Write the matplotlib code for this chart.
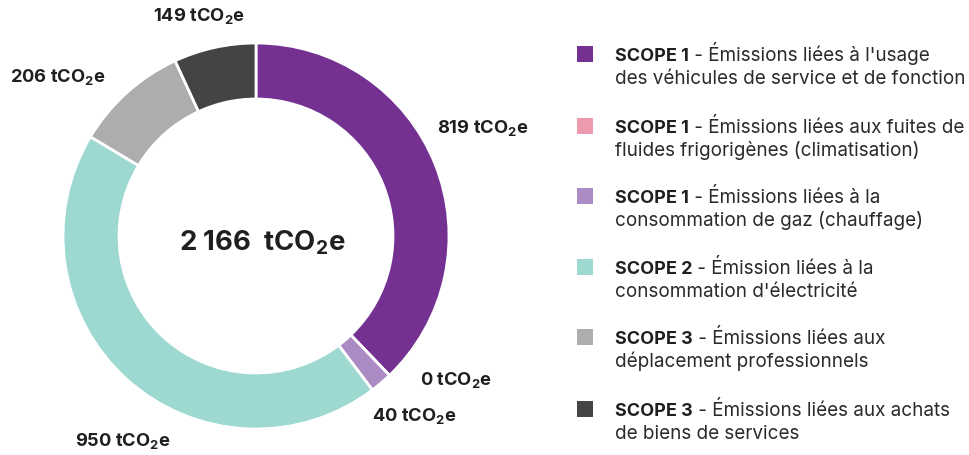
import matplotlib
matplotlib.use("Agg")
import matplotlib.pyplot as plt

plt.rcParams['font.family'] = ['Inter', 'DejaVu Sans']
plt.rcParams['mathtext.fontset'] = 'custom'
plt.rcParams['mathtext.rm'] = 'Inter'
plt.rcParams['mathtext.bf'] = 'Inter:bold'

# data, clockwise from the top
values = [819, 0, 40, 950, 206, 149]
colors = ['#743191', '#EE9AAE', '#AB8BC3', '#9DD9D1', '#ADADAF', '#444446']
scopes = ['SCOPE 1', 'SCOPE 1', 'SCOPE 1', 'SCOPE 2', 'SCOPE 3', 'SCOPE 3']
descs = [
    ["Émissions liées à l'usage", "des véhicules de service et de fonction"],
    ["Émissions liées aux fuites de", "fluides frigorigènes (climatisation)"],
    ["Émissions liées à la", "consommation de gaz (chauffage)"],
    ["Émission liées à la", "consommation d'électricité"],
    ["Émissions liées aux", "déplacement professionnels"],
    ["Émissions liées aux achats", "de biens de services"],
]
total_label = "2 166"

# label positions in pixels (left x, centre y from top)
label_pos = [(437, 128), (420, 380), (372, 416), (75, 441), (10, 77), (153, 16)]

W, H = 969, 456
fig = plt.figure(figsize=(W / 100, H / 100), dpi=100)
ax = fig.add_axes([0, 0, 1, 1])

cx, cy, r = 256, H - 237, 193
ax.pie(values, colors=colors, startangle=90, counterclock=False,
       center=(cx, cy), radius=r, frame=True,
       wedgeprops=dict(width=56, edgecolor='white', linewidth=2))
ax.set_xlim(0, W)
ax.set_ylim(0, H)
ax.set_aspect('equal')
ax.axis('off')

txt = '#1f1f1f'
for v, (x, y) in zip(values, label_pos):
    ax.text(x, H - y, f"{v} tCO$_{{\\mathbf{{2}}}}$e", fontsize=13.2,
            fontweight='bold', color=txt, ha='left', va='center')

ax.text(262, H - 243, f"{total_label}  tCO$_{{\\mathbf{{2}}}}$e", fontsize=19.8,
        fontweight='bold', color=txt, ha='center', va='center')

# legend, text on a common baseline
renderer = fig.canvas.get_renderer()
row_y = [55, 127, 197, 268, 338, 410]
for i, y in enumerate(row_y):
    ax.add_patch(plt.Rectangle((577, H - y - 8), 16, 16, color=colors[i], lw=0))
    base = H - y - 6
    t = ax.text(615, base, scopes[i], fontsize=13, fontweight='bold',
                color=txt, ha='left', va='baseline')
    bb = t.get_window_extent(renderer)
    ax.text(bb.x1, base, " - " + descs[i][0], fontsize=13.6, color='#2a2a2a',
            ha='left', va='baseline')
    ax.text(615, base - 23, descs[i][1], fontsize=13.6, color='#2a2a2a',
            ha='left', va='baseline')

fig.savefig('out.png', dpi=100)
